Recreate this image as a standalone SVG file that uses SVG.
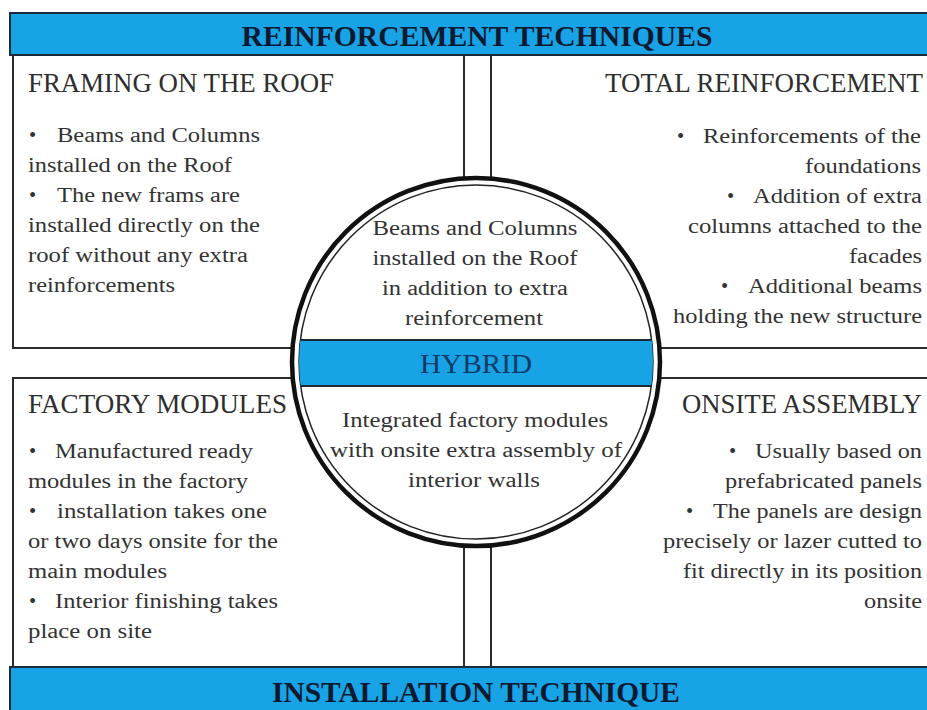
<svg xmlns="http://www.w3.org/2000/svg" width="927" height="710" viewBox="0 0 927 710">
<style>
.box{fill:#fff;stroke:#2b2b2b;stroke-width:2}
.ban{fill:#17a3e6;stroke:#1c2a3a;stroke-width:2}
text{font-family:"Liberation Serif",Tinos,"Times New Roman","DejaVu Serif",serif}
.bt{font-weight:bold;font-size:29px;fill:#0b1a30;text-anchor:middle}
.hd{font-size:26.5px;fill:#2e2e2e}
.tx{font-size:20.5px;fill:#333}
.c{text-anchor:middle}
</style>
<defs>
<clipPath id="inner"><circle cx="476" cy="362" r="177"/></clipPath>
</defs>
<rect width="927" height="710" fill="#fff"/>

<g id="box-framing">
<rect class="box" x="13" y="55" width="451" height="293"/>
<text class="hd" x="28" y="92" textLength="306" lengthAdjust="spacingAndGlyphs">FRAMING ON THE ROOF</text>
<text class="tx" x="29" y="142">•</text>
<text class="tx" x="57" y="142" textLength="203" lengthAdjust="spacingAndGlyphs">Beams and Columns</text>
<text class="tx" x="28" y="172" textLength="204" lengthAdjust="spacingAndGlyphs">installed on the Roof</text>
<text class="tx" x="29" y="202">•</text>
<text class="tx" x="57" y="202" textLength="183" lengthAdjust="spacingAndGlyphs">The new frams are</text>
<text class="tx" x="28" y="232" textLength="232" lengthAdjust="spacingAndGlyphs">installed directly on the</text>
<text class="tx" x="28" y="262" textLength="220" lengthAdjust="spacingAndGlyphs">roof without any extra</text>
<text class="tx" x="28" y="292" textLength="147" lengthAdjust="spacingAndGlyphs">reinforcements</text>
</g>

<g id="box-total">
<rect class="box" x="491" y="55" width="445" height="293"/>
<text class="hd" x="605" y="92" textLength="318" lengthAdjust="spacingAndGlyphs">TOTAL REINFORCEMENT</text>
<text class="tx" x="677" y="143">•</text>
<text class="tx" x="703" y="143" textLength="218" lengthAdjust="spacingAndGlyphs">Reinforcements of the</text>
<text class="tx" x="805" y="173" textLength="116" lengthAdjust="spacingAndGlyphs">foundations</text>
<text class="tx" x="727" y="203">•</text>
<text class="tx" x="753" y="203" textLength="169" lengthAdjust="spacingAndGlyphs">Addition of extra</text>
<text class="tx" x="688" y="233" textLength="234" lengthAdjust="spacingAndGlyphs">columns attached to the</text>
<text class="tx" x="849" y="263" textLength="73" lengthAdjust="spacingAndGlyphs">facades</text>
<text class="tx" x="721" y="293">•</text>
<text class="tx" x="748" y="293" textLength="174" lengthAdjust="spacingAndGlyphs">Additional beams</text>
<text class="tx" x="673" y="323" textLength="249" lengthAdjust="spacingAndGlyphs">holding the new structure</text>
</g>

<g id="box-factory">
<rect class="box" x="13" y="378" width="451" height="289"/>
<text class="hd" x="28" y="413" textLength="259" lengthAdjust="spacingAndGlyphs">FACTORY MODULES</text>
<text class="tx" x="29" y="458">•</text>
<text class="tx" x="55" y="458" textLength="198" lengthAdjust="spacingAndGlyphs">Manufactured ready</text>
<text class="tx" x="28" y="488" textLength="220" lengthAdjust="spacingAndGlyphs">modules in the factory</text>
<text class="tx" x="29" y="518">•</text>
<text class="tx" x="57" y="518" textLength="210" lengthAdjust="spacingAndGlyphs">installation takes one</text>
<text class="tx" x="28" y="548" textLength="250" lengthAdjust="spacingAndGlyphs">or two days onsite for the</text>
<text class="tx" x="28" y="578" textLength="139" lengthAdjust="spacingAndGlyphs">main modules</text>
<text class="tx" x="29" y="608">•</text>
<text class="tx" x="55" y="608" textLength="223" lengthAdjust="spacingAndGlyphs">Interior finishing takes</text>
<text class="tx" x="28" y="638" textLength="124" lengthAdjust="spacingAndGlyphs">place on site</text>
</g>

<g id="box-onsite">
<rect class="box" x="491" y="378" width="445" height="289"/>
<text class="hd" x="682" y="413" textLength="240" lengthAdjust="spacingAndGlyphs">ONSITE ASSEMBLY</text>
<text class="tx" x="729" y="458">•</text>
<text class="tx" x="755" y="458" textLength="167" lengthAdjust="spacingAndGlyphs">Usually based on</text>
<text class="tx" x="725" y="488" textLength="197" lengthAdjust="spacingAndGlyphs">prefabricated panels</text>
<text class="tx" x="686" y="518">•</text>
<text class="tx" x="713" y="518" textLength="209" lengthAdjust="spacingAndGlyphs">The panels are design</text>
<text class="tx" x="663" y="548" textLength="259" lengthAdjust="spacingAndGlyphs">precisely or lazer cutted to</text>
<text class="tx" x="683" y="578" textLength="239" lengthAdjust="spacingAndGlyphs">fit directly in its position</text>
<text class="tx" x="864" y="608" textLength="58" lengthAdjust="spacingAndGlyphs">onsite</text>
</g>

<g id="banner-top">
<rect class="ban" x="10" y="13" width="925" height="42"/>
<text class="bt" x="477" y="46" textLength="471" lengthAdjust="spacingAndGlyphs">REINFORCEMENT TECHNIQUES</text>
</g>

<g id="banner-bottom">
<rect class="ban" x="10" y="667" width="925" height="50"/>
<text class="bt" x="476" y="702" textLength="408" lengthAdjust="spacingAndGlyphs">INSTALLATION TECHNIQUE</text>
</g>

<g id="hybrid">
<circle cx="476" cy="362" r="184" fill="#fff" stroke="#111" stroke-width="4.5"/>
<circle cx="476" cy="362" r="177" fill="#fff" stroke="#222" stroke-width="1.5"/>
<g clip-path="url(#inner)">
<rect x="290" y="340" width="372" height="46" fill="#17a3e6" stroke="#1c2a3a" stroke-width="2"/>
</g>
<text class="hd c" x="476" y="373" style="fill:#0d3b66" textLength="112" lengthAdjust="spacingAndGlyphs">HYBRID</text>
<text class="tx c" x="475" y="235" textLength="205" lengthAdjust="spacingAndGlyphs">Beams and Columns</text>
<text class="tx c" x="475" y="265" textLength="205" lengthAdjust="spacingAndGlyphs">installed on the Roof</text>
<text class="tx c" x="475" y="295" textLength="186" lengthAdjust="spacingAndGlyphs">in addition to extra</text>
<text class="tx c" x="474" y="325" textLength="138" lengthAdjust="spacingAndGlyphs">reinforcement</text>
<text class="tx c" x="475" y="427" textLength="266" lengthAdjust="spacingAndGlyphs">Integrated factory modules</text>
<text class="tx c" x="476" y="457" textLength="292" lengthAdjust="spacingAndGlyphs">with onsite extra assembly of</text>
<text class="tx c" x="474" y="487" textLength="132" lengthAdjust="spacingAndGlyphs">interior walls</text>
</g>
</svg>
